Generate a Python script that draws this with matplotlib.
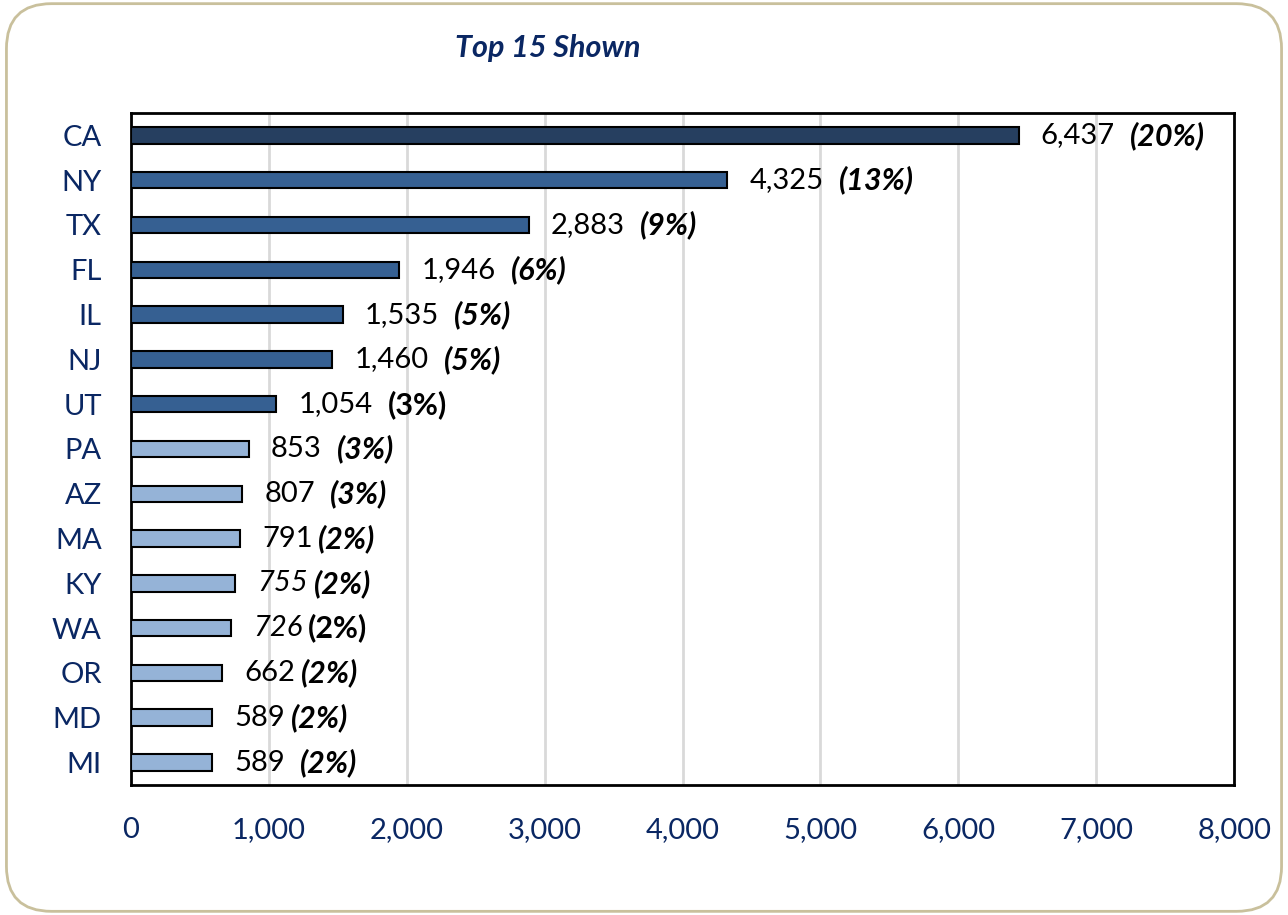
"""Top 15 states horizontal bar chart with value and share labels."""
import matplotlib

matplotlib.use("Agg")

import matplotlib.pyplot as plt  # noqa: E402
from matplotlib.patches import FancyBboxPatch  # noqa: E402
from matplotlib.ticker import FuncFormatter  # noqa: E402

states = ["CA", "NY", "TX", "FL", "IL", "NJ", "UT", "PA", "AZ", "MA", "KY", "WA", "OR", "MD", "MI"]
counts = [6437, 4325, 2883, 1946, 1535, 1460, 1054, 853, 807, 791, 755, 726, 662, 589, 589]
shares = [20, 13, 9, 6, 5, 5, 3, 3, 3, 2, 2, 2, 2, 2, 2]
x_ticks = [0, 1000, 2000, 3000, 4000, 5000, 6000, 7000, 8000]

NAVY = "#0a2763"
DARK = "#263f60"
MID = "#366092"
LIGHT = "#95b3d7"

# styling quirks copied from the original labels
bar_colors = [DARK] + [MID] * 6 + [LIGHT] * 8
value_italic = [False] * 10 + [True, True] + [False] * 3
pct_italic = [True] * 6 + [False] + [True] * 4 + [False] + [True] * 3
label_gap = [11, 11, 11, 11, 11, 11, 11, 11, 11, 4, 4, 4, 4, 4, 11]

plt.rcParams["font.family"] = ["Lato", "DejaVu Sans"]

fig = plt.figure(figsize=(12.88, 9.15), dpi=100)
fig.patch.set_facecolor("white")
# rounded frame drawn behind the axes
border = FancyBboxPatch(
    (0.005, 0.004), 0.99, 0.992,
    boxstyle="round,pad=0,rounding_size=0.035",
    transform=fig.transFigure, facecolor="white", edgecolor="#c9c09c", linewidth=2,
    mutation_aspect=1288 / 915, zorder=-10,
)
fig.patches.append(border)

ax = fig.add_axes([0.1017, 0.1421, 0.8565, 0.7344])
ypos = list(range(len(states)))
ax.barh(ypos, counts, height=0.37, color=bar_colors, edgecolor="black", linewidth=1.5, zorder=3)
ax.set_ylim(len(states) - 0.5, -0.5)
ax.set_xlim(x_ticks[0], x_ticks[-1])
ax.set_xticks(x_ticks)
ax.xaxis.set_major_formatter(FuncFormatter(lambda v, _: f"{int(v):,}"))
ax.set_yticks(ypos)
ax.set_yticklabels(states)
ax.tick_params(axis="x", length=0, pad=23, labelsize=21, labelcolor=NAVY)
ax.tick_params(axis="y", length=0, pad=21, labelsize=21, labelcolor=NAVY)
ax.grid(axis="x", color="#d9d9d9", linewidth=2, zorder=0)
for spine in ax.spines.values():
    spine.set_linewidth(2)
    spine.set_color("black")

for i, (n, pct) in enumerate(zip(counts, shares)):
    vt = ax.annotate(
        f"{n:,}", xy=(n, i), xytext=(16, 0), textcoords="offset points",
        va="center", ha="left", fontsize=21, color="black",
        style="italic" if value_italic[i] else "normal",
    )
    ax.annotate(
        f"({pct}%)", xy=(1, 0.5), xycoords=vt, xytext=(label_gap[i], 0),
        textcoords="offset points", va="center", ha="left", fontsize=22,
        color="black", fontweight="bold",
        style="italic" if pct_italic[i] else "normal",
    )

fig.text(0.4255, 0.948, "Top 15 Shown", ha="center", va="center", fontsize=22,
         fontweight="bold", style="italic", color=NAVY)

fig.savefig("out.png", dpi=100)
